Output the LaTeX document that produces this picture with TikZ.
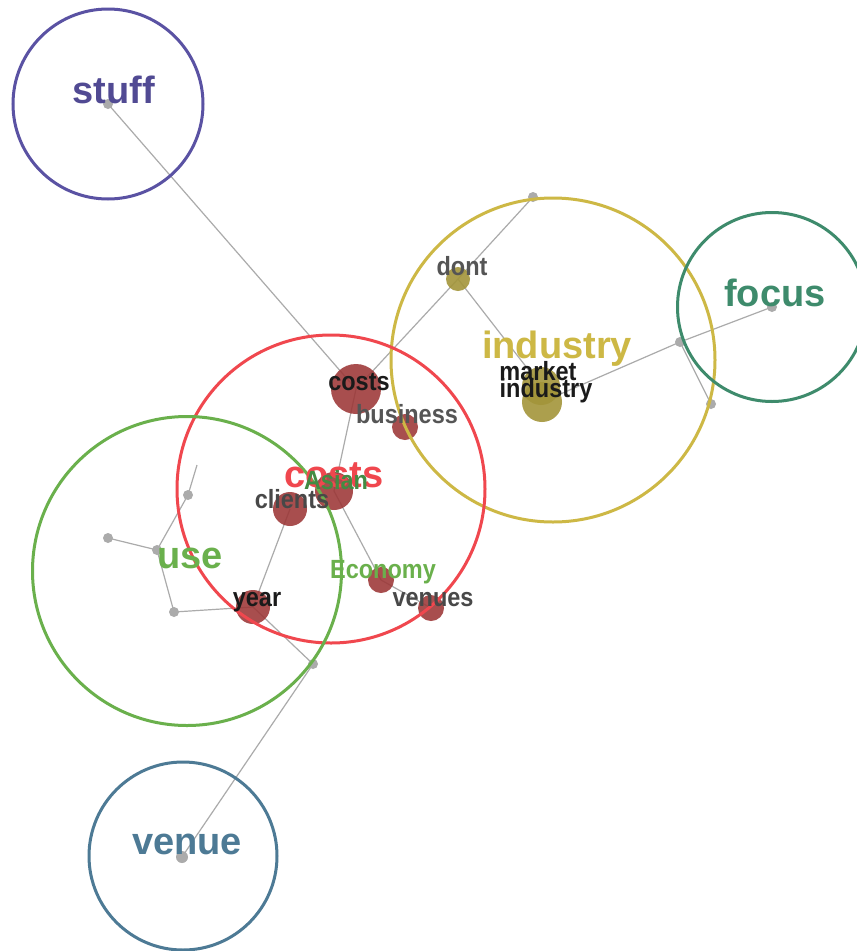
\documentclass[tikz,border=0pt]{standalone}
\usepackage{fontspec}
\setmainfont{Liberation Sans}
\definecolor{edgegray}{HTML}{ABABAB}
\definecolor{dotgray}{HTML}{ABABAB}
\definecolor{nodered}{HTML}{9C3636}
\definecolor{nodeolive}{HTML}{A3953A}
\definecolor{cstuff}{HTML}{5A52A3}
\definecolor{cindustry}{HTML}{CDB845}
\definecolor{cfocus}{HTML}{3E8B6C}
\definecolor{ccosts}{HTML}{F0474E}
\definecolor{cuse}{HTML}{6AB04C}
\definecolor{cvenue}{HTML}{4D7A95}
\definecolor{tdark}{HTML}{1A1A1A}
\definecolor{tgray}{HTML}{555555}
\definecolor{tgreen}{HTML}{4FA44F}
\begin{document}
\begin{tikzpicture}[x=1pt,y=-1pt,
  edge/.style={draw=edgegray, line width=1.2pt},
  gdot/.style={circle, fill=dotgray, inner sep=0pt, minimum size=10pt},
  rnode/.style={circle, fill=nodered, fill opacity=0.88, inner sep=0pt},
  onode/.style={circle, fill=nodeolive, fill opacity=0.9, inner sep=0pt},
  clus/.style={circle, draw, line width=3pt, inner sep=0pt},
  big/.style={font=\fontsize{38}{38}\selectfont\bfseries, anchor=base, inner sep=0pt},
  small/.style={font=\fontsize{23.5}{24}\selectfont\bfseries, anchor=base, inner sep=0pt}]
\useasboundingbox (0,0) rectangle (857,951);
\fill[white] (0,0) rectangle (857,951);

% ---- node positions (coordinates) ----
\coordinate (pStuff) at (108,104);
\coordinate (pTop) at (533,197);
\coordinate (pDont) at (458,279);
\coordinate (pMarket) at (541,386);
\coordinate (pIndustry) at (542,402);
\coordinate (pF1) at (680,342);
\coordinate (pF2) at (772,307);
\coordinate (pF3) at (711,404);
\coordinate (pCosts) at (356,389);
\coordinate (pBusiness) at (405,427);
\coordinate (pAsian) at (334,491);
\coordinate (pClients) at (290,509);
\coordinate (pEconomy) at (381,580);
\coordinate (pVenues) at (431,608);
\coordinate (pYear) at (253,607);
\coordinate (pG1) at (313,664);
\coordinate (pVenue) at (182,857);
\coordinate (pU1) at (188,495);
\coordinate (pU2) at (108,538);
\coordinate (pU3) at (157,550);
\coordinate (pU4) at (174,612);
\coordinate (pUend) at (197,465);

% ---- edges ----
\draw[edge] (pStuff) -- (pCosts);
\draw[edge] (pCosts) -- (pDont);
\draw[edge] (pDont) -- (pTop);
\draw[edge] (pDont) -- (pMarket);
\draw[edge] (pIndustry) -- (pF1);
\draw[edge] (pF1) -- (pF2);
\draw[edge] (pF1) -- (pF3);
\draw[edge] (pCosts) -- (pAsian);
\draw[edge] (pAsian) -- (pEconomy);
\draw[edge] (pEconomy) -- (pVenues);
\draw[edge] (pClients) -- (pYear);
\draw[edge] (pYear) -- (pG1);
\draw[edge] (pG1) -- (pVenue);
\draw[edge] (pYear) -- (pU4);
\draw[edge] (pU4) -- (pU3);
\draw[edge] (pU3) -- (pU2);
\draw[edge] (pU3) -- (pU1);
\draw[edge] (pU1) -- (pUend);

% ---- graph nodes ----
\node[gdot] (nStuff) at (pStuff) {};
\node[gdot] (nTop) at (pTop) {};
\node[onode, minimum size=24pt] (nDont) at (pDont) {};
\node[onode, minimum size=38pt] (nMarket) at (pMarket) {};
\node[onode, minimum size=40pt] (nIndustry) at (pIndustry) {};
\node[gdot] (nF1) at (pF1) {};
\node[gdot] (nF2) at (pF2) {};
\node[gdot] (nF3) at (pF3) {};
\node[rnode, minimum size=50pt] (nCosts) at (pCosts) {};
\node[rnode, minimum size=26pt] (nBusiness) at (pBusiness) {};
\node[rnode, minimum size=38pt] (nAsian) at (pAsian) {};
\node[rnode, minimum size=34pt] (nClients) at (pClients) {};
\node[rnode, minimum size=26pt] (nEconomy) at (pEconomy) {};
\node[rnode, minimum size=26pt] (nVenues) at (pVenues) {};
\node[rnode, minimum size=34pt] (nYear) at (pYear) {};
\node[gdot] (nG1) at (pG1) {};
\node[gdot, minimum size=12pt] (nVenue) at (pVenue) {};
\node[gdot] (nU1) at (pU1) {};
\node[gdot] (nU2) at (pU2) {};
\node[gdot] (nU3) at (pU3) {};
\node[gdot] (nU4) at (pU4) {};

% ---- cluster circles ----
\node[clus, draw=cstuff, minimum size=190pt] (cStuff) at (108,104) {};
\node[clus, draw=cindustry, minimum size=324pt] (cIndustry) at (553,360) {};
\node[clus, draw=cfocus, minimum size=189pt] (cFocus) at (772,307) {};
\node[clus, draw=ccosts, minimum size=308pt] (cCosts) at (331,489) {};
\node[clus, draw=cuse, minimum size=309pt] (cUse) at (187,571) {};
\node[clus, draw=cvenue, minimum size=188pt] (cVenue) at (183,856) {};

% ---- small labels ----
\node[small, text=tdark] (lCosts) at (359,390) {\scalebox{1}[1.12]{costs}};
\node[small, text=tgray] (lBusiness) at (407,423) {\scalebox{1}[1.12]{business}};
\node[small, text=tgray] (lDont) at (462,275) {\scalebox{1}[1.12]{dont}};
\node[small, text=tdark] (lMarket) at (538,380) {\scalebox{1}[1.12]{market}};
\node[small, text=tdark] (lIndustry) at (546,397) {\scalebox{1}[1.12]{industry}};
\node[big, text=ccosts] (bCosts) at (334,487) {costs};
\node[small, text=tgreen!85!black] (lAsian) at (336,489) {\scalebox{1}[1.12]{Asian}};
\node[small, text=tdark!80] (lClients) at (292,508) {\scalebox{1}[1.12]{clients}};
\node[small, text=cuse] (lEconomy) at (383,578) {\scalebox{1}[1.12]{Economy}};
\node[small, text=tdark] (lYear) at (257,606) {\scalebox{1}[1.12]{year}};
\node[small, text=tgray!85!black] (lVenues) at (433,606) {\scalebox{1}[1.12]{venues}};

% ---- big labels ----
\node[big, text=cstuff!90!black] (bStuff) at (114,103) {stuff};
\node[big, text=cindustry] (bIndustry) at (557,358) {industry};
\node[big, text=cfocus] (bFocus) at (775,306) {focus};
\node[big, text=cuse] (bUse) at (190,568) {use};
\node[big, text=cvenue] (bVenue) at (187,854) {venue};
\end{tikzpicture}
\end{document}
